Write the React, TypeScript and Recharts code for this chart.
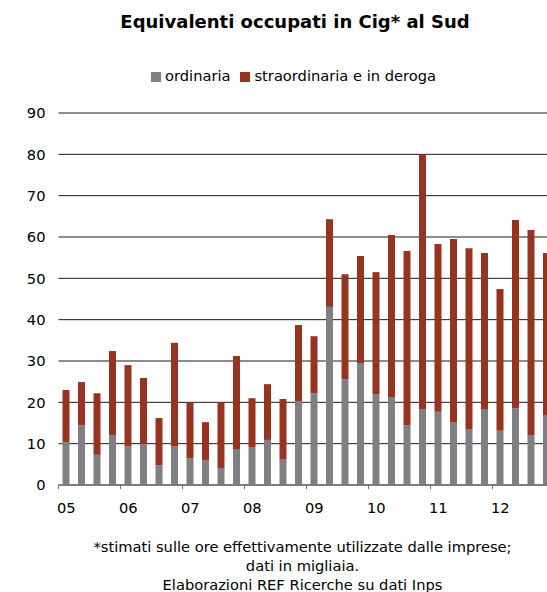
import React from 'react';
import { BarChart, Bar, XAxis, YAxis, CartesianGrid, Legend } from 'recharts';

const quarters = [
  '2005-T1', '2005-T2', '2005-T3', '2005-T4',
  '2006-T1', '2006-T2', '2006-T3', '2006-T4',
  '2007-T1', '2007-T2', '2007-T3', '2007-T4',
  '2008-T1', '2008-T2', '2008-T3', '2008-T4',
  '2009-T1', '2009-T2', '2009-T3', '2009-T4',
  '2010-T1', '2010-T2', '2010-T3', '2010-T4',
  '2011-T1', '2011-T2', '2011-T3', '2011-T4',
  '2012-T1', '2012-T2', '2012-T3', '2012-T4',
];

const yearLabels = ['05', '06', '07', '08', '09', '10', '11', '12'];

const ordinaria = [
  10.4, 14.4, 7.3, 12.1,
  9.4, 9.9, 4.8, 9.4,
  6.5, 6.0, 4.1, 8.7,
  9.2, 10.9, 6.3, 20.3,
  22.2, 43.1, 25.6, 29.5,
  22.0, 21.3, 14.5, 18.4,
  17.7, 15.2, 13.5, 18.4,
  13.1, 18.6, 12.1, 16.9,
];

const straordinaria = [
  12.6, 10.5, 14.9, 20.3,
  19.6, 16.0, 11.4, 25.0,
  13.5, 9.2, 15.9, 22.5,
  11.8, 13.5, 14.5, 18.4,
  13.8, 21.2, 25.4, 25.9,
  29.5, 39.2, 42.1, 61.6,
  40.6, 44.3, 43.8, 37.7,
  34.3, 45.5, 49.6, 39.2,
];

const yTicks = [0, 10, 20, 30, 40, 50, 60, 70, 80, 90];
const seriesNames = ['ordinaria', 'straordinaria e in deroga'];
const titleText = 'Equivalenti occupati in Cig* al Sud';
const footnoteLines = [
  '*stimati sulle ore effettivamente utilizzate dalle imprese;',
  'dati in migliaia.',
  'Elaborazioni REF Ricerche su dati Inps',
];

const data = quarters.map((q, i) => ({
  quarter: q,
  ordinaria: ordinaria[i],
  straordinaria: straordinaria[i],
}));

const FONT = '"DejaVu Sans", Verdana, sans-serif';
const FS = 14.67;
const GRAY = '#7f7f84';
const RED = '#963421';
const AXIS = '#6e6e6e';

const YearTick = (props: any) => {
  const { x, y, payload } = props;
  const half = typeof payload?.offset === 'number' ? payload.offset : 0;
  const idx = quarters.indexOf(payload?.value);
  const label = idx >= 0 ? yearLabels[Math.floor(idx / 4)] : '';
  return (
    <g>
      <line x1={x - half} x2={x - half} y1={y - 4} y2={y} stroke={AXIS} strokeWidth={1} />
      <text x={x} y={y} dy={24} textAnchor="middle" fill="#000" fontSize={FS} fontFamily={FONT}>
        {label}
      </text>
    </g>
  );
};

export default function App() {
  return (
    <div
      style={{
        position: 'absolute',
        left: 0,
        top: 0,
        width: 547,
        height: 592,
        overflow: 'hidden',
        background: '#fff',
        fontFamily: FONT,
      }}
    >
      <div
        style={{
          position: 'absolute',
          left: 0,
          top: 13,
          width: 590,
          textAlign: 'center',
          fontSize: 18,
          lineHeight: '18px',
          fontWeight: 'bold',
          color: '#000',
          whiteSpace: 'nowrap',
        }}
      >
        {titleText}
      </div>
      <div style={{ position: 'absolute', left: 0, top: 0 }}>
        <BarChart
          width={554.5}
          height={592}
          data={data}
          margin={{ top: 113, right: 0, left: 0, bottom: 77 }}
        >
          <CartesianGrid horizontal vertical={false} stroke="#1a1a1a" strokeWidth={1} />
          <XAxis
            dataKey="quarter"
            interval={3}
            height={30}
            tickSize={4}
            tickMargin={0}
            tickLine={false}
            axisLine={{ stroke: AXIS, strokeWidth: 1 }}
            tick={<YearTick />}
          />
          <YAxis
            width={58.5}
            domain={[0, 90]}
            ticks={yTicks}
            axisLine={false}
            tickLine={false}
            tickSize={0}
            tickMargin={13}
            tick={{ fill: '#000', fontSize: FS, fontFamily: FONT }}
          />
          <Legend
            layout="horizontal"
            verticalAlign="middle"
            align="center"
            iconType="square"
            iconSize={10}
            wrapperStyle={{
              top: 67,
              left: 0,
              width: 597,
              fontSize: FS,
              fontFamily: FONT,
              lineHeight: '17px',
            }}
            formatter={(value: any) => <span style={{ color: '#000' }}>{value}</span>}
          />
          <Bar
            dataKey="ordinaria"
            name={seriesNames[0]}
            stackId="a"
            fill={GRAY}
            barSize={7}
            isAnimationActive={false}
          />
          <Bar
            dataKey="straordinaria"
            name={seriesNames[1]}
            stackId="a"
            fill={RED}
            barSize={7}
            isAnimationActive={false}
          />
        </BarChart>
      </div>
      <div
        style={{
          position: 'absolute',
          left: 0,
          top: 537,
          width: 605,
          textAlign: 'center',
          fontSize: FS,
          lineHeight: '19px',
          color: '#000',
          whiteSpace: 'nowrap',
        }}
      >
        {footnoteLines.map((l, i) => (
          <div key={i}>{l}</div>
        ))}
      </div>
    </div>
  );
}
